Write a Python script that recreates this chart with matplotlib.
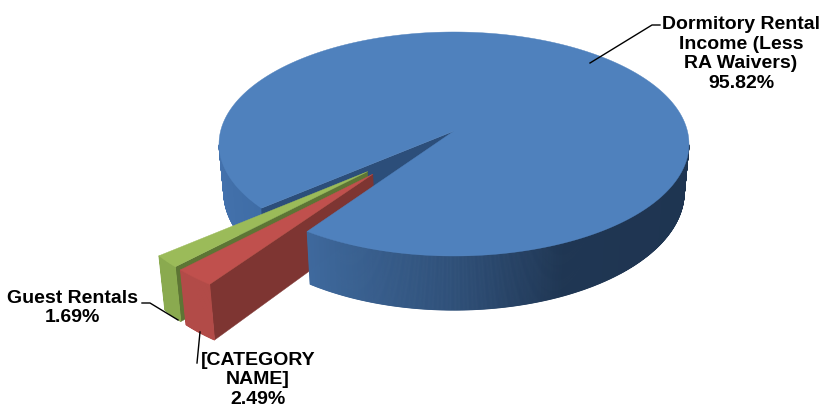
import numpy as np
import matplotlib
matplotlib.use('Agg')
import matplotlib.pyplot as plt
from matplotlib.colors import LinearSegmentedColormap

labels = ['Dormitory Rental\nIncome (Less\nRA Waivers)', 'Guest Rentals', '[CATEGORY\nNAME]']
values = [95.82, 1.69, 2.49]

plt.rcParams['font.family'] = ['Liberation Sans', 'DejaVu Sans']

fig = plt.figure(figsize=(8.2, 4.14), dpi=100, facecolor='white')
ax = fig.add_axes([0, 0, 1, 1])
ax.set_xlim(0, 820)
ax.set_ylim(414, 0)
ax.axis('off')

# perspective of the disc, fitted to the picture in pixels
CX, CY = 454, 132
A, B, K = 233.4, 110.5, 0.116
SHRINK = 0.98
START = 235.3
EXPLODE = [0, 0.5, 0.5]
NUDGE = [0, 1.5, -2.5]  # exploded slices don't move exactly along the bisector

def project(u, v):
    w = 1 + K * v
    return CX + A * u / w, CY - B * v / w

def lower(x, y):
    # nearer parts look a bit thicker
    return CX + (x - CX) * SHRINK, y + 40 + 0.055 * y

def centre(a0, a1, i):
    mid = np.radians((a0 + a1) / 2 + NUDGE[i])
    return EXPLODE[i] * np.cos(mid), EXPLODE[i] * np.sin(mid)

def quad(x0, y0, x1, y1, color, z, lw=0.3):
    bx0, by0 = lower(x0, y0)
    bx1, by1 = lower(x1, y1)
    ax.fill([x0, x1, bx1, bx0], [y0, y1, by1, by0], fc=color, ec=color, lw=lw, zorder=z)

def rim(a0, a1, cu, cv, side_color, z):
    t = np.linspace(a0, a1, max(int(abs(a1 - a0) * 4) + 2, 3))
    x, y = project(np.cos(np.radians(t)) + cu, np.sin(np.radians(t)) + cv)
    for i in range(len(x) - 1):
        quad(x[i], y[i], x[i + 1], y[i + 1], side_color(t[i]), z + i * 0.0001, lw=0.6)

def top(a0, a1, cu, cv, color, z):
    t = np.radians(np.linspace(a0, a1, 400))
    x, y = project(np.cos(t) + cu, np.sin(t) + cv)
    x0, y0 = project(cu, cv)
    ax.fill(np.r_[x0, x], np.r_[y0, y], fc=color, ec=color, lw=0.3, zorder=z)

def wall(ang, cu, cv, color, z):
    x0, y0 = project(cu, cv)
    x1, y1 = project(cu + np.cos(np.radians(ang)), cv + np.sin(np.radians(ang)))
    quad(x0, y0, x1, y1, color, z)

# slice angles come from the values
sweep = [v / sum(values) * 360 for v in values]
blue0 = START
blue1 = START + sweep[0]
green0 = blue1 - 360
green1 = green0 + sweep[1]
red0 = green1
red1 = red0 + sweep[2]

blue_cmap = LinearSegmentedColormap.from_list('side', [
    (0.0, '#4674B0'), (0.222, '#3F6DA6'), (0.306, '#3F6A9E'), (0.5, '#2F5079'),
    (0.639, '#1F3653'), (1.0, '#1E3450')])
def blue_side(t):
    return blue_cmap(np.clip(((t % 360) - 180) / 180, 0, 1))

gu, gv = centre(green0, green1, 1)
ru, rv = centre(red0, red1, 2)

# blue, left of the gap and the cut wall
rim(187, green0, 0, 0, blue_side, 1)
wall(green0, 0, 0, '#2C4E7A', 2)

# green slice
wall(green1, gu, gv, '#5D7534', 3)
rim(green0, green1, gu, gv, lambda t: '#8AAA4F', 4)
top(green0, green1, gu, gv, '#9BBB59', 5)

# red slice
wall(red1, ru, rv, '#7E3532', 6)
rim(red0, red1, ru, rv, lambda t: '#B24B48', 7)
top(red0, red1, ru, rv, '#C0504D', 8)

# blue, in front of the gap
rim(blue0, 353, 0, 0, blue_side, 9)
top(blue0, blue1, 0, 0, '#4F81BD', 10)

# labels and leader lines
font = dict(fontsize=14, fontweight='bold', color='black', ha='center', va='center', linespacing=1.2, zorder=12)
ax.text(741, 54, '%s\n%.2f%%' % (labels[0], values[0]), **font)
ax.text(72.5, 308, '%s\n%.2f%%' % (labels[1], values[1]), **font)
ax.text(258, 380, '%s\n%.2f%%' % (labels[2], values[2]), **font)

ax.plot([590, 652, 660], [64, 26, 26], color='black', lw=1, zorder=11)
ax.plot([142, 150, 178], [304, 304, 321], color='black', lw=1, zorder=11)
ax.plot([200, 197], [333, 364], color='black', lw=1, zorder=11)

fig.savefig('out.png', dpi=100, facecolor='white')
